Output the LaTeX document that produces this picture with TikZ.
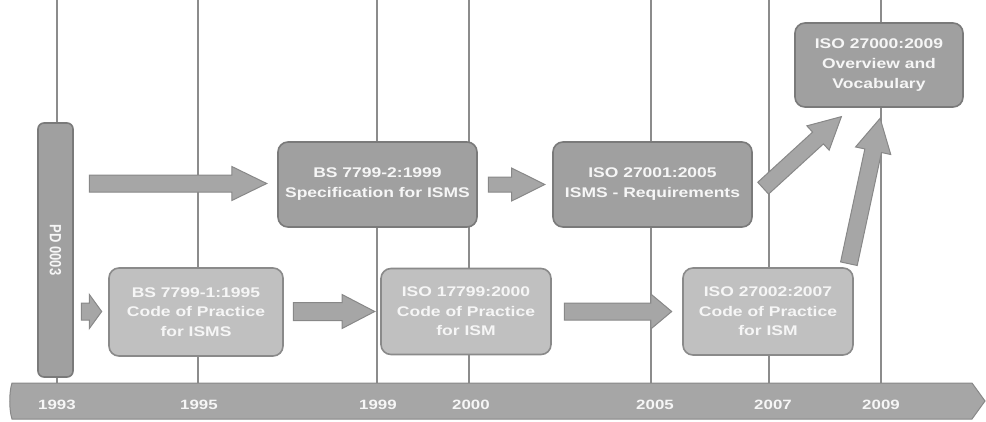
\documentclass[tikz,border=0pt]{standalone}
\usepackage{fontspec}
\setmainfont{Liberation Sans}
\usepackage{graphicx}
\usetikzlibrary{shapes.arrows,calc}

\definecolor{gridgray}{RGB}{140,140,140}
\definecolor{darkfill}{RGB}{160,160,160}
\definecolor{darkedge}{RGB}{122,122,122}
\definecolor{lightfill}{RGB}{192,192,192}
\definecolor{lightedge}{RGB}{138,138,138}
\definecolor{arrowfill}{RGB}{166,166,166}
\definecolor{arrowedge}{RGB}{136,136,136}
\definecolor{labeltext}{RGB}{246,246,246}

% wide lettering
\newcommand\hs[1]{\scalebox{1.25}[1]{#1}}

\tikzset{
  card/.style={rounded corners=10pt, line width=1.6pt, inner sep=0pt,
    text=labeltext, align=center, font=\fontsize{14}{20}\selectfont\bfseries},
  darkcard/.style={card, fill=darkfill, draw=darkedge},
  lightcard/.style={card, fill=lightfill, draw=lightedge,
    font=\fontsize{14}{19.5}\selectfont\bfseries},
  blockarrow/.style={single arrow, fill=arrowfill, draw=arrowedge, line width=1pt,
    inner xsep=0pt, inner ysep=8pt, minimum width=0pt,
    single arrow head extend=8.5pt},
  yearlabel/.style={text=labeltext, font=\fontsize{13.5}{16}\selectfont\bfseries},
  gridrule/.style={draw=gridgray, line width=1.4pt}
}

% block arrow from #2 to #3 with tip angle #4
\newcommand\connect[4][]{%
  \path let \p1=#2, \p2=#3,
    \n1={atan2(\y2-\y1,\x2-\x1)}, \n2={veclen(\x2-\x1,\y2-\y1)} in
    node[blockarrow, single arrow tip angle=#4, rotate=\n1,
         minimum height=\n2, anchor=tail, #1] at (\p1) {};}

\begin{document}
\begin{tikzpicture}[x=1pt,y=-1pt]
\useasboundingbox (0,0) rectangle (986,421);
\fill[white] (0,0) rectangle (986,421);

\coordinate (bartop) at (0,383);

% year rules
\foreach \x in {57,198,377,469,651,769,881}
  \draw[gridrule] (\x,0) -- (\x,0 |- bartop);

% time bar
\draw[fill=arrowfill, draw=arrowedge, line width=1pt]
  (12,383) -- (972,383) -- (985,401) -- (972,419) -- (12,419)
  .. controls (9,410) and (9,392) .. (12,383) -- cycle;

\node[yearlabel] (y1993) at (57,405) {\hs{1993}};
\node[yearlabel] (y1995) at (199,405) {\hs{1995}};
\node[yearlabel] (y1999) at (378,405) {\hs{1999}};
\node[yearlabel] (y2000) at (471,405) {\hs{2000}};
\node[yearlabel] (y2005) at (655,405) {\hs{2005}};
\node[yearlabel] (y2007) at (773,405) {\hs{2007}};
\node[yearlabel] (y2009) at (881,405) {\hs{2009}};

% standards
\node[darkcard, rounded corners=6pt, minimum width=35pt, minimum height=254pt,
      font=\fontsize{13}{15}\selectfont\bfseries] (pd) at (55.5,250)
  {\scalebox{1.25}[1]{\rotatebox{-90}{PD 0003}}};

\node[darkcard, minimum width=199pt, minimum height=85pt] (bs2) at (377.5,184.5)
  {\hs{BS 7799-2:1999}\\\hs{Specification for ISMS}};
\node[darkcard, minimum width=199pt, minimum height=85pt] (iso27001) at (652.5,184.5)
  {\hs{ISO 27001:2005}\\\hs{ISMS - Requirements}};
\node[darkcard, minimum width=168pt, minimum height=84pt] (iso27000) at (879,65)
  {\hs{ISO 27000:2009}\\\hs{Overview and}\\\hs{Vocabulary}};

\node[lightcard, minimum width=174pt, minimum height=88pt] (bs1) at (196,312)
  {\hs{BS 7799-1:1995}\\\hs{Code of Practice}\\\hs{for ISMS}};
\node[lightcard, minimum width=170pt, minimum height=86pt] (iso17799) at (466,311.5)
  {\hs{ISO 17799:2000}\\\hs{Code of Practice}\\\hs{for ISM}};
\node[lightcard, minimum width=170pt, minimum height=87pt] (iso27002) at (768,311.5)
  {\hs{ISO 27002:2007}\\\hs{Code of Practice}\\\hs{for ISM}};

% succession arrows
\connect{($(pd.east |- bs2.west)+(15,-1)$)}{($(bs2.west)+(-11,-1)$)}{52}
\connect[inner ysep=7pt, single arrow head extend=9pt]
  {($(bs2.east)+(10,0)$)}{($(iso27001.west)+(-8,0)$)}{53}
\connect[inner ysep=7.5pt]
  {($(iso27001.east)+(10,4)$)}{($(iso27000.south west)+(47,9)$)}{55}
\connect[single arrow head extend=9.5pt]
  {($(iso27002.north east)+(-5,-3)$)}{($(iso27000.south)+(1,11)$)}{57}
\connect{($(pd.east |- iso17799.west)+(7,0)$)}{($(bs1.west)+(-7,-0.5)$)}{108}
\connect[inner ysep=8.5pt, single arrow head extend=8pt]
  {($(bs1.east |- iso17799.west)+(9,0)$)}{($(iso17799.west)+(-6,0)$)}{55}
\connect[single arrow head extend=9pt]
  {($(iso17799.east)+(12,0)$)}{($(iso27002.west)+(-11,0)$)}{80}
\end{tikzpicture}
\end{document}
